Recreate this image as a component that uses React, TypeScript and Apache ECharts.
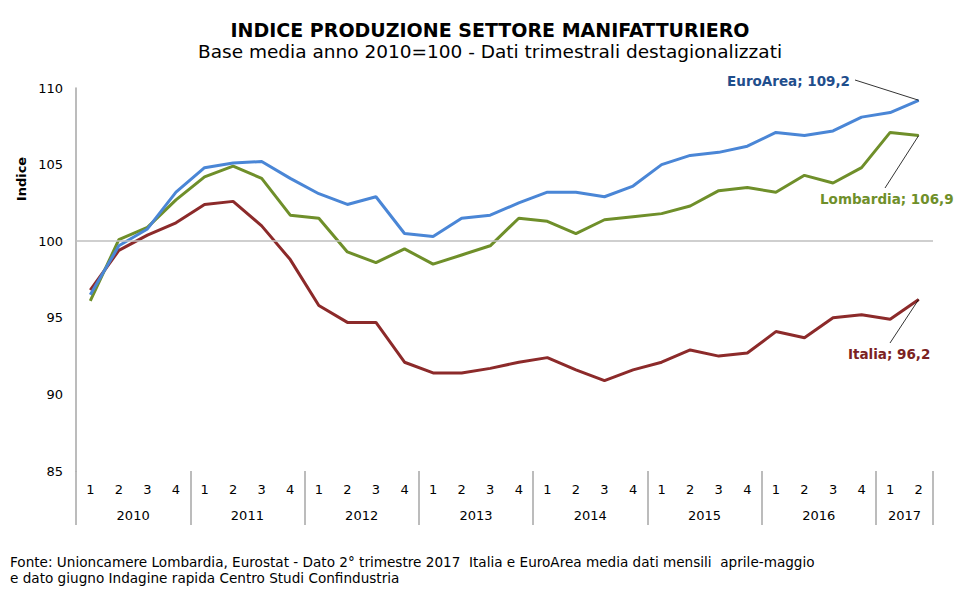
import React, { useEffect, useRef } from "react";
import * as echarts from "echarts";

const quarters = ["1","2","3","4","1","2","3","4","1","2","3","4","1","2","3","4","1","2","3","4","1","2","3","4","1","2","3","4","1","2"];
const yearLabels: Record<number, string> = { 2: "2010", 6: "2011", 10: "2012", 14: "2013", 18: "2014", 22: "2015", 26: "2016", 29: "2017" };

const euroArea = [96.5, 99.7, 100.8, 103.2, 104.8, 105.1, 105.2, 104.1, 103.1, 102.4, 102.9, 100.5, 100.3, 101.5, 101.7, 102.5, 103.2, 103.2, 102.9, 103.6, 105.0, 105.6, 105.8, 106.2, 107.1, 106.9, 107.2, 108.1, 108.4, 109.2];
const lombardia = [96.1, 100.1, 100.9, 102.7, 104.2, 104.9, 104.1, 101.7, 101.5, 99.3, 98.6, 99.5, 98.5, 99.1, 99.7, 101.5, 101.3, 100.5, 101.4, 101.6, 101.8, 102.3, 103.3, 103.5, 103.2, 104.3, 103.8, 104.8, 107.1, 106.9];
const italia = [96.8, 99.4, 100.4, 101.2, 102.4, 102.6, 101.0, 98.8, 95.8, 94.7, 94.7, 92.1, 91.4, 91.4, 91.7, 92.1, 92.4, 91.6, 90.9, 91.6, 92.1, 92.9, 92.5, 92.7, 94.1, 93.7, 95.0, 95.2, 94.9, 96.2];

const FONT = "'DejaVu Sans', Verdana, sans-serif";

function fmt(v: number) {
  return v.toFixed(1).replace(".", ",");
}

function makeSeries(
  name: string,
  values: number[],
  color: string,
  labelColor: string,
  labelPos: { x: number; y: number; align: string },
  linePos: { x: number; y: number },
  z: number
) {
  const last = values.length - 1;
  const data = values.map((v, i) =>
    i === last
      ? {
          value: v,
          label: {
            show: true,
            formatter: () => `${name}; ${fmt(v)}`,
            color: labelColor,
            fontFamily: FONT,
            fontWeight: "bold",
            fontSize: 13.5,
          },
        }
      : v
  );
  return {
    name,
    type: "line",
    data,
    z,
    symbol: "circle",
    symbolSize: 0,
    showSymbol: true,
    lineStyle: { color, width: 3 },
    itemStyle: { color },
    label: { show: false },
    labelLayout: (p: any) =>
      p.dataIndex === last
        ? { x: labelPos.x, y: labelPos.y, align: labelPos.align, verticalAlign: "middle", hideOverlap: false }
        : {},
    markLine: {
      silent: true,
      symbol: ["none", "none"],
      label: { show: false },
      lineStyle: { color: "#000", width: 0.8, type: "solid" },
      data: [
        [
          { coord: [last, values[last]], symbol: "none" },
          { x: linePos.x, y: linePos.y, symbol: "none" },
        ],
      ],
    },
  };
}

export default function App() {
  const ref = useRef<HTMLDivElement>(null);
  useEffect(() => {
    if (!ref.current) return;
    const chart = echarts.init(ref.current, undefined, { renderer: "svg" });
    const option: any = {
      animation: false,
      backgroundColor: "#fff",
      textStyle: { fontFamily: FONT },
      title: [
        {
          text: "INDICE PRODUZIONE SETTORE MANIFATTURIERO",
          left: "center",
          top: 15,
          textStyle: { fontFamily: FONT, fontWeight: "bold", fontSize: 19, color: "#000" },
        },
        {
          text: "Base media anno 2010=100 - Dati trimestrali destagionalizzati",
          left: "center",
          top: 37,
          textStyle: { fontFamily: FONT, fontWeight: "normal", fontSize: 18.5, color: "#000" },
        },
      ],
      grid: { left: 76, right: 47, top: 88, bottom: 119, containLabel: false },
      xAxis: [
        {
          type: "category",
          data: quarters,
          boundaryGap: true,
          axisLine: { show: false },
          axisTick: {
            show: true,
            interval: (i: number) => i % 4 === 0,
            length: 54,
            lineStyle: { color: "#A6A6A6", width: 1.5 },
          },
          axisLabel: { interval: 0, margin: 12, fontSize: 13, color: "#000", fontFamily: FONT },
          splitLine: { show: false },
        },
        {
          type: "value",
          position: "bottom",
          offset: 26,
          min: 0,
          max: 30,
          interval: 1,
          axisLine: { show: false },
          axisTick: { show: false },
          splitLine: { show: false },
          axisLabel: {
            margin: 12,
            fontSize: 13,
            color: "#000",
            fontFamily: FONT,
            formatter: (v: number) => yearLabels[v] || "",
          },
        },
      ],
      yAxis: {
        type: "value",
        min: 85,
        max: 110,
        interval: 5,
        axisLine: { show: true, lineStyle: { color: "#A6A6A6", width: 1.5 } },
        axisTick: { show: false },
        splitLine: { show: false },
        axisLabel: { margin: 13, fontSize: 13, color: "#000", fontFamily: FONT },
      },
      series: [
        {
          type: "line",
          data: [],
          z: 1,
          markLine: {
            silent: true,
            symbol: ["none", "none"],
            label: { show: false },
            lineStyle: { color: "#BFBFBF", width: 1.5, type: "solid" },
            data: [{ yAxis: 100 }],
          },
        },
        makeSeries("Italia", italia, "#8C2A2A", "#7B2222", { x: 848, y: 354, align: "left" }, { x: 890, y: 343 }, 2),
        makeSeries("Lombardia", lombardia, "#6F8F2A", "#6F8F2A", { x: 820, y: 199, align: "left" }, { x: 885, y: 188 }, 3),
        makeSeries("EuroArea", euroArea, "#4A86D6", "#1F4E8C", { x: 850, y: 81, align: "right" }, { x: 855, y: 80 }, 4),
      ],
      graphic: [
        {
          type: "text",
          x: 21,
          y: 179,
          rotation: Math.PI / 2,
          style: {
            text: "Indice",
            fontFamily: FONT,
            fontWeight: "bold",
            fontSize: 13,
            fill: "#000",
            align: "center",
            verticalAlign: "middle",
          },
        },
        {
          type: "text",
          x: 10,
          y: 562,
          style: {
            text: "Fonte: Unioncamere Lombardia, Eurostat - Dato 2° trimestre 2017  Italia e EuroArea media dati mensili  aprile-maggio",
            fontFamily: FONT,
            fontSize: 13.6,
            fill: "#000",
            verticalAlign: "middle",
          },
        },
        {
          type: "text",
          x: 10,
          y: 578,
          style: {
            text: "e dato giugno Indagine rapida Centro Studi Confindustria",
            fontFamily: FONT,
            fontSize: 13.6,
            fill: "#000",
            verticalAlign: "middle",
          },
        },
      ],
    };
    chart.setOption(option);
    return () => chart.dispose();
  }, []);
  return (
    <div
      ref={ref}
      style={{ position: "fixed", left: 0, top: 0, width: 980, height: 590 }}
    />
  );
}
